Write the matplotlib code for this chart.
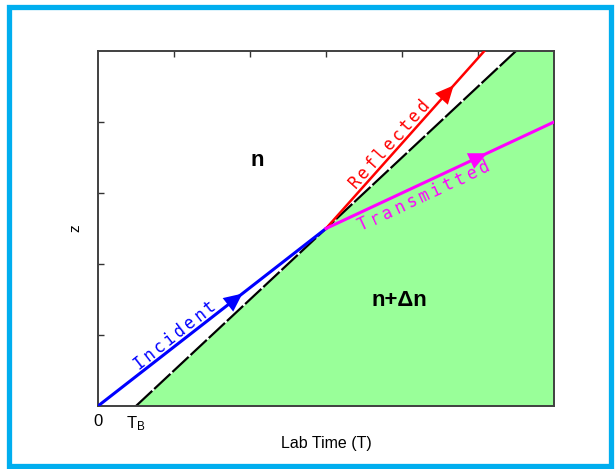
import numpy as np
import matplotlib
matplotlib.use("Agg")
import matplotlib.pyplot as plt
from matplotlib.patches import Rectangle
from matplotlib.transforms import IdentityTransform

# boundary between the two media moves through z at unit speed, starting at T_B
t_b = 0.5
boundary_t = [0.5, 5.5]
boundary_z = [0.0, 5.0]

# rays (lab time, z)
incident_t = [0.0, 3.0]
incident_z = [0.0, 2.5]
reflected_t = [3.0, 5.0833]
reflected_z = [2.5, 5.0]
transmitted_t = [3.0, 6.0]
transmitted_z = [2.5, 4.0]

x_ticks = [0, t_b]
x_ticklabels = ["0", "$\\mathregular{T_B}$"]
top_ticks = [1, 2, 3, 4, 5]
z_ticks = [1, 2, 3, 4]

W, H = 615, 469
fig = plt.figure(figsize=(W / 100, H / 100), dpi=100)
fig.patch.set_facecolor("white")

# cyan frame around the whole figure
fig.patches.append(Rectangle((9 / W, 3 / H), 602 / W, 459 / H, transform=fig.transFigure,
                             fill=False, edgecolor="#00AEEF", linewidth=3.8))

ax = fig.add_axes([98 / W, (H - 406) / H, 456 / W, 355 / H])
ax.set_xlim(0, 6)
ax.set_ylim(0, 5)

# medium n+dn region below the boundary
bt = np.array(boundary_t)
bz = np.array(boundary_z)
ax.fill_between(np.append(bt, 6.0), np.append(bz, 5.0), 0, color="#99FF99", zorder=1, linewidth=0)
ax.plot(boundary_t, boundary_z, color="black", lw=1.6, ls=(0, (10, 1.2)), zorder=2)

ax.plot(incident_t, incident_z, color="#0000FF", lw=2.2, zorder=3)
ax.plot(reflected_t, reflected_z, color="#FF0000", lw=1.8, zorder=3)
ax.plot(transmitted_t, transmitted_z, color="#FF00FF", lw=2.2, zorder=3)


def arrow_on(t, z, at, color):
    slope = (z[1] - z[0]) / (t[1] - t[0])
    tip = (at, z[0] + slope * (at - t[0]))
    tail = (at - 0.25, z[0] + slope * (at - 0.25 - t[0]))
    ax.annotate("", xy=tip, xytext=tail,
                arrowprops=dict(arrowstyle="-|>,head_length=0.6,head_width=0.28", color=color,
                                lw=0, mutation_scale=22, shrinkA=0, shrinkB=0), zorder=4)


arrow_on(incident_t, incident_z, 1.9, "#0000FF")
arrow_on(reflected_t, reflected_z, 4.68, "#FF0000")
arrow_on(transmitted_t, transmitted_z, 5.12, "#FF00FF")


def spaced_label(text, t, z, center, offset, color, step=12.8):
    # lay the letters out one by one along the ray, in pixels
    fig.canvas.draw()
    slope = (z[1] - z[0]) / (t[1] - t[0])
    p0 = ax.transData.transform((t[0], z[0]))
    p1 = ax.transData.transform((t[1], z[1]))
    d = (p1 - p0) / np.hypot(*(p1 - p0))
    nrm = np.array([-d[1], d[0]])
    c = ax.transData.transform((center, z[0] + slope * (center - t[0])))
    ang = np.degrees(np.arctan2(d[1], d[0]))
    n = len(text)
    for i, ch in enumerate(text):
        p = c + (i - (n - 1) / 2) * step * d + offset * nrm
        fig.text(p[0], p[1], ch, transform=IdentityTransform(), color=color,
                 family="DejaVu Sans Mono", fontsize=12, rotation=ang,
                 ha="center", va="center", rotation_mode="anchor", zorder=5)


spaced_label("Incident", incident_t, incident_z, 1.08, 9, "#0000FF")
spaced_label("Reflected", reflected_t, reflected_z, 3.92, 9, "#FF0000")
spaced_label("Transmitted", transmitted_t, transmitted_z, 4.22, -12, "#FF00FF", step=13.4)

ax.text(2.1, 3.46, "n", fontsize=16, fontweight="bold", ha="center", va="center",
        family="Liberation Sans")
ax.text(3.97, 1.49, "n+\u0394n", fontsize=16, fontweight="bold", ha="center", va="center",
        family="Liberation Sans")

ax.set_xticks(x_ticks)
ax.set_xticklabels(x_ticklabels, family="Liberation Sans", fontsize=12)
ax.tick_params(axis="x", which="major", bottom=True, length=0, pad=6)
# evenly spaced time ticks sit on the top edge only
ax.set_xticks(top_ticks, minor=True)
ax.tick_params(axis="x", which="minor", bottom=False, top=True, direction="in",
               length=4, width=1, color="#333333")
ax.set_yticks(z_ticks)
ax.set_yticklabels([])
ax.tick_params(axis="y", left=True, direction="in", length=4, width=1, color="#333333")

for s in ax.spines.values():
    s.set_color("#404040")
    s.set_linewidth(1.4)

ax.set_xlabel("Lab Time (T)", family="Liberation Sans", fontsize=11.5, labelpad=2)
ax.set_ylabel("z", family="Liberation Sans", fontsize=11, labelpad=8)

fig.savefig("out.png", dpi=100)
